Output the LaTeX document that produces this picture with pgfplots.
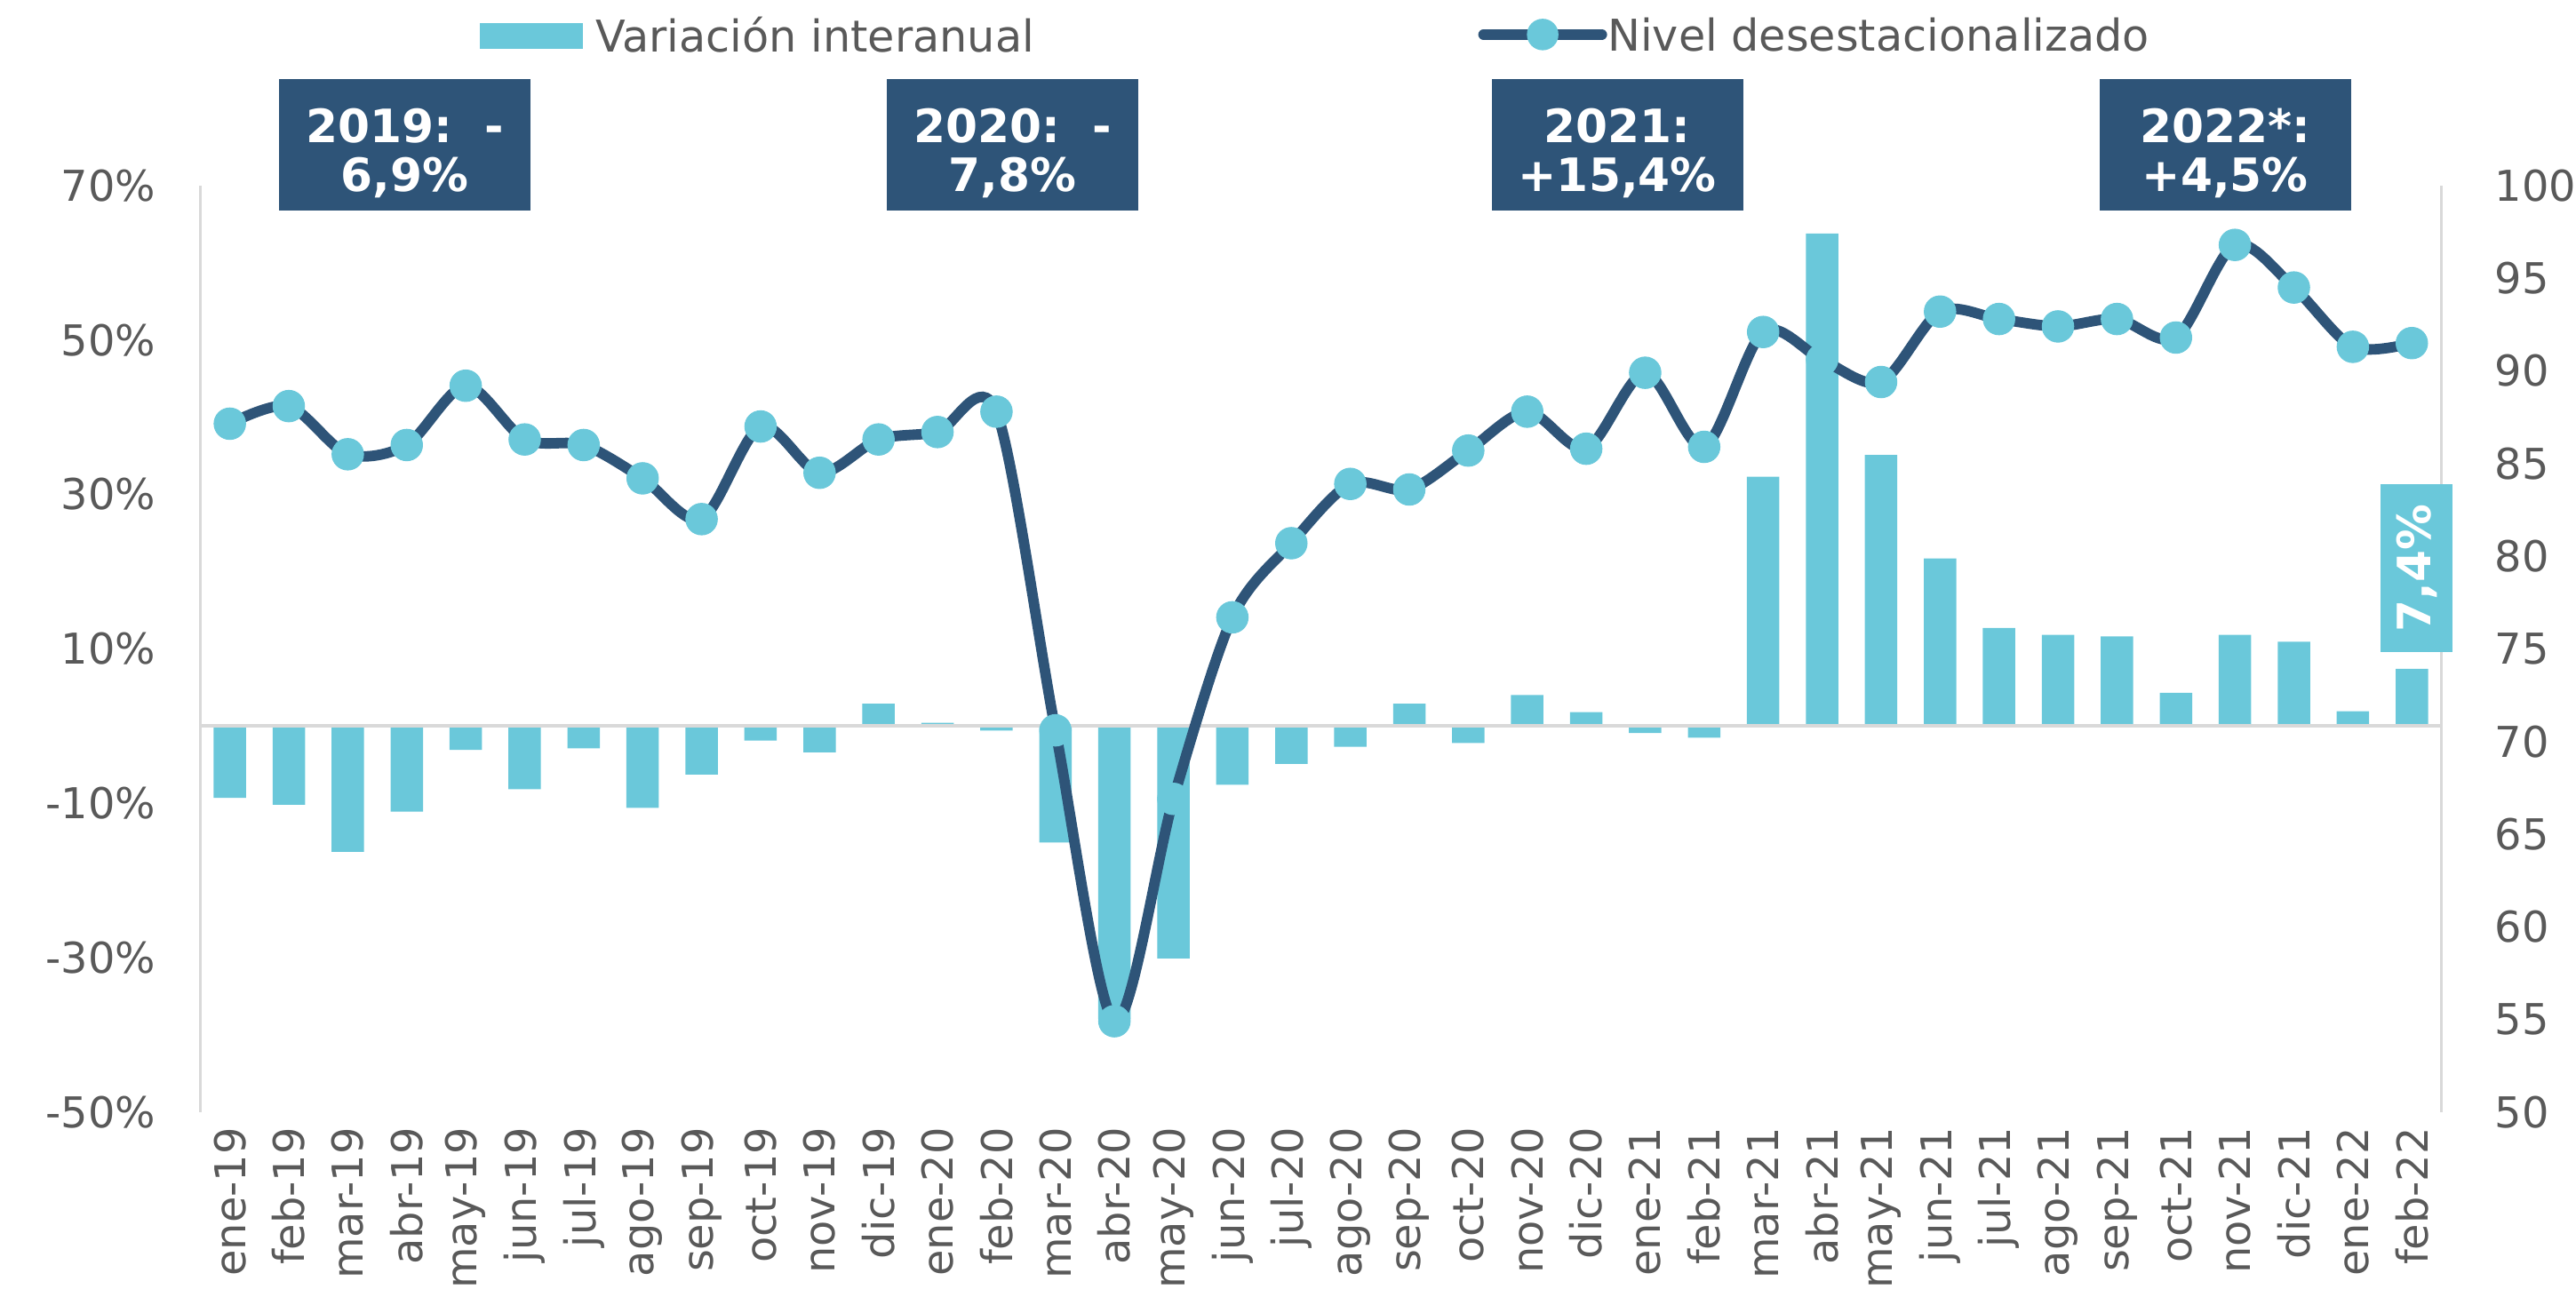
\documentclass[border=0pt]{standalone}
\usepackage{fontspec}
\setmainfont{DejaVu Sans}
\usepackage{pgfplots}
\usepackage{pgfplotstable}
\pgfplotsset{compat=1.18}

\definecolor{barcyan}{HTML}{6AC8DA}
\definecolor{navy}{HTML}{2E5478}
\definecolor{txtgray}{HTML}{595959}
\definecolor{axgray}{HTML}{D9D9D9}

% idx, variacion interanual (%), nivel desestacionalizado
\pgfplotstableread{
idx var nivel
0 -9.3 87.15
1 -10.2 88.1
2 -16.3 85.5
3 -11.1 86.0
4 -3.1 89.2
5 -8.2 86.3
6 -2.9 86.0
7 -10.6 84.2
8 -6.3 82.0
9 -1.9 87.0
10 -3.4 84.5
11 2.9 86.3
12 0.4 86.7
13 -0.6 87.8
14 -15.1 70.6
15 -38.0 54.9
16 -30.1 66.9
17 -7.6 76.7
18 -4.9 80.7
19 -2.7 83.9
20 2.9 83.6
21 -2.2 85.7
22 4.0 87.8
23 1.8 85.8
24 -0.9 89.9
25 -1.5 85.9
26 32.3 92.1
27 63.8 90.6
28 35.1 89.4
29 21.7 93.2
30 12.7 92.8
31 11.8 92.4
32 11.6 92.8
33 4.3 91.8
34 11.8 96.8
35 10.9 94.5
36 1.9 91.3
37 7.4 91.5
}\data

\pgfplotsset{
  common/.style={
    scale only axis, width=511.5pt, height=211.5pt,
    xmin=-0.5, xmax=37.5,
    major tick length=0,
    tick label style={font=\fontsize{9.7}{11.6}\selectfont, text=txtgray},
  },
}
\tikzset{
  box/.style={fill=navy, minimum width=57.4pt, minimum height=30pt, inner sep=0pt},
  boxtext/.style={text=white, font=\bfseries\fontsize{10.5}{11.25}\selectfont,
    align=center, inner sep=0pt, yshift=-2pt},
}
% year box: position x, text
\newcommand\yearbox[2]{%
  \node[box] at (rel axis cs:#1,1.0443) {};
  \node[boxtext] at (rel axis cs:#1,1.0443) {#2};}

\begin{document}
\begin{tikzpicture}
\begin{axis}[
  common,
  ymin=-50, ymax=70,
  separate axis lines,
  axis x line*=bottom, x axis line style={draw=none},
  axis y line*=left, y axis line style={axgray, line width=0.75pt},
  ytick={-50,-30,-10,10,30,50,70},
  yticklabels={-50\%,-30\%,-10\%,10\%,30\%,50\%,70\%},
  yticklabel style={inner xsep=0pt, xshift=-10pt},
  xtick={0,...,37},
  xticklabels={ene-19,feb-19,mar-19,abr-19,may-19,jun-19,jul-19,ago-19,sep-19,oct-19,nov-19,dic-19,
    ene-20,feb-20,mar-20,abr-20,may-20,jun-20,jul-20,ago-20,sep-20,oct-20,nov-20,dic-20,
    ene-21,feb-21,mar-21,abr-21,may-21,jun-21,jul-21,ago-21,sep-21,oct-21,nov-21,dic-21,
    ene-22,feb-22},
  xticklabel style={rotate=90, anchor=east},
]
\addplot[ybar, bar width=0.55, fill=barcyan, draw=none] table[x=idx, y=var]{\data};
\draw[axgray, line width=0.75pt] (axis cs:-0.5,0) -- (axis cs:37.5,0);
\end{axis}

\begin{axis}[
  common,
  ymin=50, ymax=100,
  axis x line=none,
  axis y line*=right, y axis line style={axgray, line width=0.75pt},
  ytick={50,55,...,100},
  yticklabel style={anchor=west, inner xsep=0pt, xshift=12pt},
  /pgf/number format/assume math mode=true,
  clip=false,
]
\addplot[navy, line width=2.4pt, smooth, tension=0.5, mark=*, mark size=3.6pt,
  mark options={solid, fill=barcyan, draw=barcyan, line width=0.2pt}] table[x=idx, y=nivel]{\data};

% legend
\fill[barcyan] (rel axis cs:0.1246,1.1472) rectangle (rel axis cs:0.1708,1.1755);
\node[anchor=west, inner sep=0pt, text=txtgray, font=\fontsize{10}{12}\selectfont]
  at (rel axis cs:0.1760,1.1631) {Variación interanual};
\draw[navy, line width=2.4pt, line cap=round] (rel axis cs:0.5726,1.1631) -- (rel axis cs:0.6254,1.1631);
\fill[barcyan] (rel axis cs:0.5990,1.1631) circle (3.6pt);
\node[anchor=west, inner sep=0pt, text=txtgray, font=\fontsize{10}{12}\selectfont]
  at (rel axis cs:0.6276,1.1631) {Nivel desestacionalizado};

% yearly boxes
\yearbox{0.0913}{2019:\ \ -\\6,9\%}
\yearbox{0.3625}{2020:\ \ -\\7,8\%}
\yearbox{0.6323}{2021:\\+15,4\%}
\yearbox{0.9036}{2022*:\\+4,5\%}

\node[fill=barcyan, text=white, rotate=90, font=\bfseries\fontsize{10.5}{12}\selectfont,
  minimum width=38.25pt, minimum height=16.5pt, inner sep=0pt]
  at (rel axis cs:0.989,0.587) {7,4\%};

% page extent
\path (rel axis cs:-0.0894,-0.2163) rectangle (rel axis cs:1.0601,1.2004);
\end{axis}
\end{tikzpicture}
\end{document}
